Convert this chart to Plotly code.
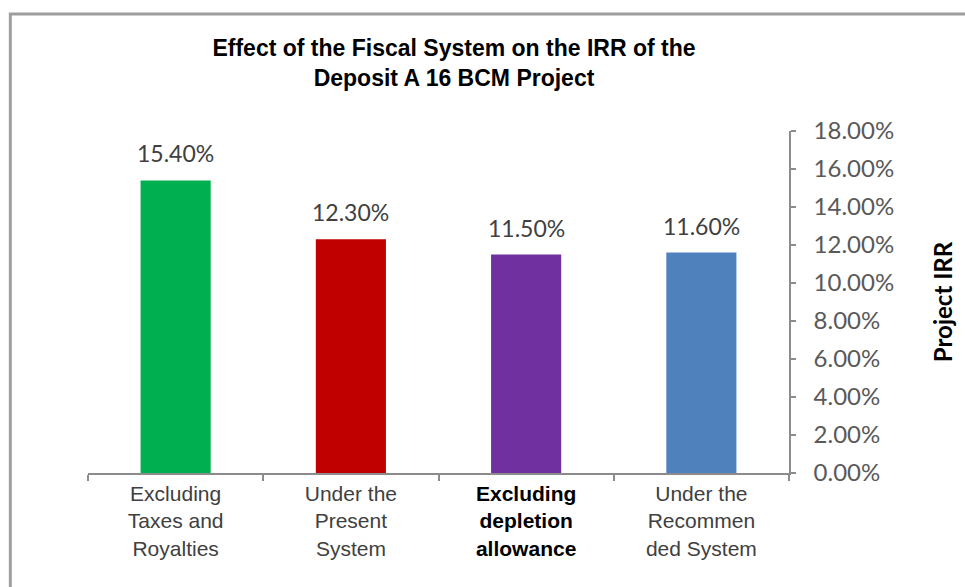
import plotly.graph_objects as go

# Scenarios and their project IRR (fraction)
categories = ["Excluding Taxes and Royalties", "Under the Present System",
              "Excluding depletion allowance", "Under the Recommended System"]
tick_labels = ["Excluding<br>Taxes and<br>Royalties",
               "Under the<br>Present<br>System",
               "<span style=\"color:#000000\"><b>Excluding<br>depletion<br>allowance</b></span>",
               "Under the<br>Recommen<br>ded System"]
irr = [0.154, 0.123, 0.115, 0.116]
bar_colors = ["#00B050", "#C00000", "#7030A0", "#4F81BD"]

W, H = 965, 587
L, R, T, B = 88, 173, 131, 114
pw, ph = W - L - R, H - T - B

fig = go.Figure()
fig.add_trace(go.Bar(
    x=categories, y=irr, width=0.4,
    marker=dict(color=bar_colors, line=dict(width=0)),
    hoverinfo="skip", showlegend=False,
))

# value labels above the bars
for c, v in zip(categories, irr):
    fig.add_annotation(x=c, y=v, text=f"{v:.2%}", showarrow=False,
                       yanchor="bottom", yshift=11,
                       font=dict(family="Lato", size=23, color="#404040"))

# chart frame
def px_x(p):
    return (p - L) / pw

def px_y(p):
    return (H - B - p) / ph

fig.add_shape(type="rect", xref="paper", yref="paper",
              x0=px_x(10), x1=px_x(1010), y0=px_y(14), y1=px_y(640),
              line=dict(color="#9E9E9E", width=3), fillcolor="rgba(0,0,0,0)",
              layer="below")

fig.update_layout(
    width=W, height=H,
    margin=dict(l=L, r=R, t=T, b=B, pad=0),
    paper_bgcolor="white", plot_bgcolor="white",
    bargap=0.6,
    title=dict(text="<b>Effect of the Fiscal System on the IRR of the<br>Deposit A 16 BCM Project</b>",
               x=454 / W, xanchor="center", y=1 - 56 / H, yanchor="top",
               font=dict(family="Liberation Sans", size=23, color="#000000"),
               ),
    xaxis=dict(
        tickmode="array", tickvals=categories, ticktext=tick_labels,
        showline=True, linecolor="#8C8C8C", linewidth=1.5,
        ticks="outside", ticklen=6, tickcolor="#8C8C8C", tickwidth=1.5,
        tickson="boundaries", showgrid=False, zeroline=False,
        tickfont=dict(family="Liberation Sans", size=21, color="#404040"),
        ticklabelstandoff=1,
    ),
    yaxis=dict(
        side="right", range=[0, 0.18], dtick=0.02, tickformat=".2%",
        showline=True, linecolor="#8C8C8C", linewidth=1.5,
        ticks="outside", ticklen=5, tickcolor="#8C8C8C", tickwidth=1.5,
        showgrid=False, zeroline=False,
        tickfont=dict(family="Lato", size=24, color="#595959"),
        ticklabelstandoff=13,
        title=dict(text="<b>Project IRR</b>", standoff=42,
                   font=dict(family="Lato", size=24, color="#000000")),
    ),
)

fig.write_html("out.html")
